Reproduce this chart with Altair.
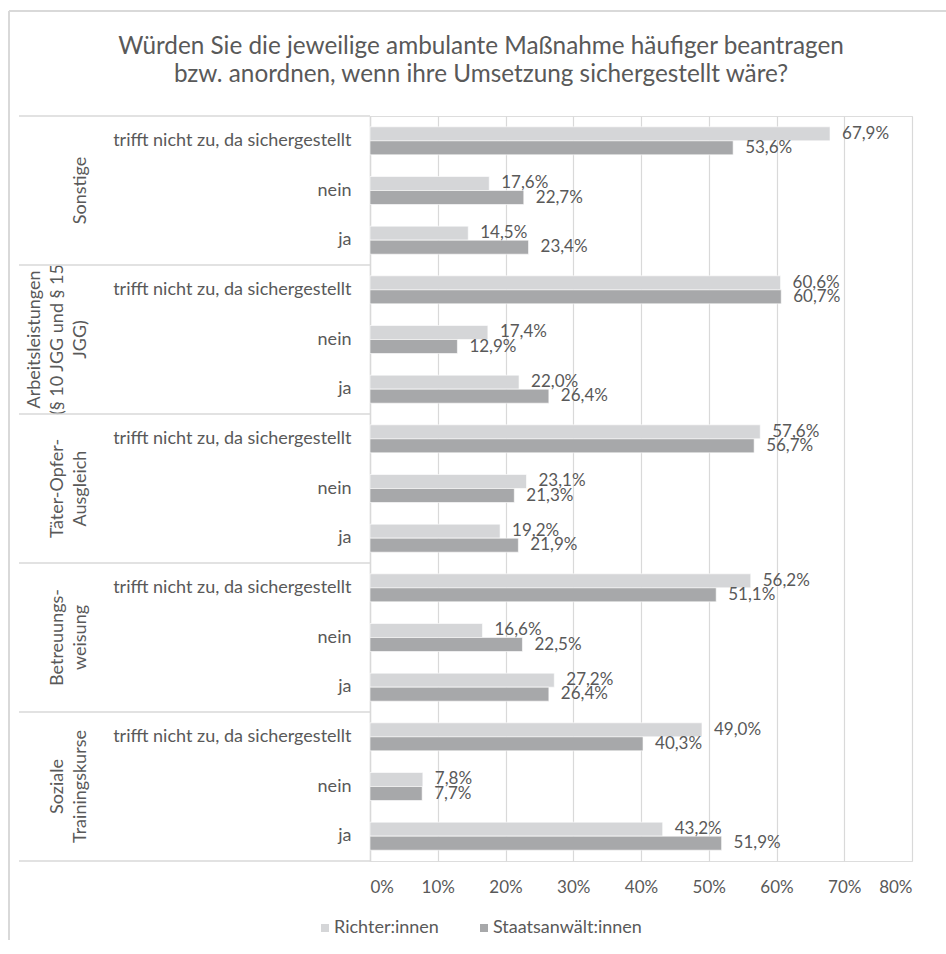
import altair as alt
import pandas as pd

FONT = "Lato"
TEXT_COLOR = "#595959"
GRID_COLOR = "#d9d9d9"

TITLE = [
    "Würden Sie die jeweilige ambulante Maßnahme häufiger beantragen",
    "bzw. anordnen, wenn ihre Umsetzung sichergestellt wäre?",
]
GROUPS = [
    "Sonstige",
    "Arbeitsleistungen (§ 10 JGG und § 15 JGG)",
    "Täter-Opfer-Ausgleich",
    "Betreuungsweisung",
    "Soziale Trainingskurse",
]
GROUP_LINES = [
    ["Sonstige"],
    ["Arbeitsleistungen", "(§ 10 JGG und § 15", "JGG)"],
    ["Täter-Opfer-", "Ausgleich"],
    ["Betreuungs-", "weisung"],
    ["Soziale", "Trainingskurse"],
]
ANSWERS = ["trifft nicht zu, da sichergestellt", "nein", "ja"]
SERIES = ["Richter:innen", "Staatsanwält:innen"]
COLORS = ["#d5d6d8", "#a7a8aa"]
RICHTER = [67.9, 17.6, 14.5, 60.6, 17.4, 22.0, 57.6, 23.1, 19.2, 56.2, 16.6, 27.2, 49.0, 7.8, 43.2]
STAATSANWALT = [53.6, 22.7, 23.4, 60.7, 12.9, 26.4, 56.7, 21.3, 21.9, 51.1, 22.5, 26.4, 40.3, 7.7, 51.9]
X_TICKS = [0, 10, 20, 30, 40, 50, 60, 70, 80]

rows = []
for gi, g in enumerate(GROUPS):
    for ai, a in enumerate(ANSWERS):
        k = gi * 3 + ai
        for s, vals in zip(SERIES, [RICHTER, STAATSANWALT]):
            rows.append(dict(
                row=f"{g}|{a}", series=s, value=vals[k],
                label=f"{vals[k]:.1f}%".replace(".", ","),
            ))
df = pd.DataFrame(rows)
row_order = [f"{g}|{a}" for g in GROUPS for a in ANSWERS]

# group label lines, indexed from the last line (k = 0 is the rightmost line)
glines = []
for g, lines in zip(GROUPS, GROUP_LINES):
    n = len(lines)
    for i, t in enumerate(lines):
        glines.append(dict(row=f"{g}|{ANSWERS[1]}", text=t, k=n - 1 - i))
gdf = pd.DataFrame(glines)
max_lines = max(len(l) for l in GROUP_LINES)

sdf = pd.DataFrame({"boundary": [i * len(ANSWERS) for i in range(len(GROUPS) + 1)]})
tdf = pd.DataFrame({"t": ["\n".join(TITLE)]})
one = pd.DataFrame({"k": [0]})

y_scale = alt.Scale(domain=row_order, paddingInner=0.436, paddingOuter=0.218)
y_enc = alt.Y(
    "row:N", sort=row_order, scale=y_scale, title=None,
    axis=alt.Axis(
        labelExpr="split(datum.value, '|')[1]", ticks=False,
        domainColor=GRID_COLOR, domainWidth=1.5, labelPadding=19,
        labelFontSize=18, labelColor=TEXT_COLOR, labelFont=FONT, labelLimit=400,
    ),
)
y_plain = alt.Y("row:N", sort=row_order, scale=y_scale)
y_off = alt.YOffset("series:N", sort=SERIES, scale=alt.Scale(domain=SERIES, paddingInner=0, paddingOuter=0))
x_enc = alt.X(
    "value:Q", scale=alt.Scale(domain=[0, 80], nice=False), title=None,
    axis=alt.Axis(
        values=X_TICKS, labelExpr="datum.value + '%'", grid=True, gridColor=GRID_COLOR,
        gridWidth=1.2, domain=False, ticks=False, labelPadding=18, labelFontSize=17,
        labelColor=TEXT_COLOR, labelFont=FONT,
    ),
)

bars = alt.Chart(df).mark_bar(stroke="white", strokeWidth=0.6).encode(
    x=x_enc, y=y_enc, yOffset=y_off,
    color=alt.Color(
        "series:N", sort=SERIES, scale=alt.Scale(domain=SERIES, range=COLORS),
        legend=alt.Legend(
            orient="none", direction="horizontal", legendX=-54, legendY=803, title=None,
            symbolType="square", symbolSize=64, symbolStrokeWidth=0, labelFontSize=18,
            labelColor=TEXT_COLOR, labelFont=FONT, columnPadding=36, labelOffset=0,
        ),
    ),
)
labels = alt.Chart(df).mark_text(
    align="left", baseline="middle", dx=12, fontSize=17, color=TEXT_COLOR, font=FONT
).encode(x="value:Q", y=y_plain, yOffset=y_off, text="label:N")

group_layers = [
    alt.Chart(gdf).transform_filter(alt.datum.k == k).mark_text(
        angle=270, align="center", baseline="middle", fontSize=18, color=TEXT_COLOR, font=FONT,
    ).encode(y=y_plain, x=alt.value(-289 - 23 * k), text="text:N")
    for k in range(max_lines)
]

main = alt.layer(bars, labels, *group_layers)

seps = alt.Chart(sdf).mark_rule(color=GRID_COLOR, strokeWidth=1.5).encode(
    y=alt.Y("boundary:Q", scale=alt.Scale(domain=[0, len(GROUPS) * len(ANSWERS)], reverse=True, nice=False), axis=None),
    x=alt.value(-351), x2=alt.value(0),
)
title = alt.Chart(tdf).mark_text(
    align="center", baseline="middle", lineBreak="\n", lineHeight=28, fontSize=24.3,
    color=TEXT_COLOR, font=FONT,
).encode(x=alt.value(111), y=alt.value(-69), text="t:N")
border_top = alt.Chart(one).mark_rule(color=GRID_COLOR, strokeWidth=2).encode(
    x=alt.value(-361), x2=alt.value(576), y=alt.value(-105))
border_left = alt.Chart(one).mark_rule(color=GRID_COLOR, strokeWidth=2).encode(
    x=alt.value(-361), y=alt.value(-105), y2=alt.value(824))

chart = alt.layer(main, seps, title, border_top, border_left).resolve_scale(y="independent").properties(
    width=542, height=745,
    padding={"left": 370, "top": 116, "right": 34, "bottom": 79},
    autosize=alt.AutoSizeParams(type="none"),
).configure_view(stroke=None).configure(background="white")

chart.save("out.html", embed_options={"renderer": "svg", "actions": False})
